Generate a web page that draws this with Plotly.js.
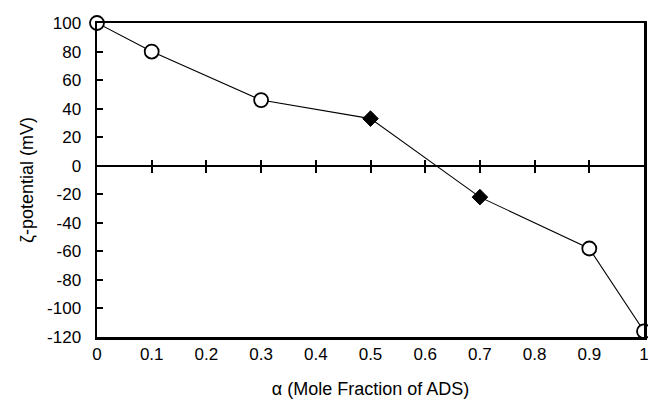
<!DOCTYPE html>
<html>
<head>
<meta charset="utf-8">
<script src="https://cdn.plot.ly/plotly-3.0.1.min.js"></script>
<style>html,body{margin:0;padding:0;background:#fff;}#chart{width:648px;height:403px;}</style>
</head>
<body>
<div id="chart"></div>
<script>
// Data
const alpha = [0, 0.1, 0.3, 0.5, 0.7, 0.9, 1.0];
const zeta = [100, 80, 46, 33, -22, -58, -116];
const symbols = ['circle-open', 'circle-open', 'circle-open', 'diamond', 'diamond', 'circle-open', 'circle-open'];

const xTickVals = [0, 0.1, 0.2, 0.3, 0.4, 0.5, 0.6, 0.7, 0.8, 0.9, 1];
const xTickText = ['0', '0.1', '0.2', '0.3', '0.4', '0.5', '0.6', '0.7', '0.8', '0.9', '1'];
const zeroTickVals = [0.1, 0.2, 0.3, 0.4, 0.5, 0.6, 0.7, 0.8, 0.9];
const yTickVals = [-120, -100, -80, -60, -40, -20, 0, 20, 40, 60, 80, 100];
const yTickText = ['-120', '-100', '-80', '-60', '-40', '-20', '0', '20', '40', '60', '80', '100'];

const xRange = [0, 1];
const yRange = [-120, 100];

const tickFont = {family: 'Liberation Sans, Arial, sans-serif', size: 17, color: '#000000'};
const titleFont = {family: 'Liberation Sans, Arial, sans-serif', size: 18, color: '#000000'};

const isDiamond = symbols.map(s => s === 'diamond');
const circX = alpha.filter((a, i) => !isDiamond[i]);
const circY = zeta.filter((z, i) => !isDiamond[i]);
const diaX = alpha.filter((a, i) => isDiamond[i]);
const diaY = zeta.filter((z, i) => isDiamond[i]);

const traces = [
  {
    x: alpha, y: zeta, type: 'scatter', mode: 'lines',
    line: {color: '#000', width: 1.1},
    cliponaxis: false, hoverinfo: 'skip', showlegend: false
  },
  {
    x: circX, y: circY, type: 'scatter', mode: 'markers',
    marker: {symbol: 'circle', size: 14, color: '#fff', opacity: 1, line: {color: '#000', width: 1.8}},
    cliponaxis: false, hoverinfo: 'skip', showlegend: false
  },
  {
    x: diaX, y: diaY, type: 'scatter', mode: 'markers',
    marker: {symbol: 'diamond', size: 12, color: '#000', opacity: 1, line: {color: '#000', width: 1}},
    cliponaxis: false, hoverinfo: 'skip', showlegend: false
  },
  {x: alpha, y: zeta, xaxis: 'x2', type: 'scatter', mode: 'none', hoverinfo: 'skip', showlegend: false},
  {x: alpha, y: zeta, xaxis: 'x3', type: 'scatter', mode: 'none', hoverinfo: 'skip', showlegend: false}
];

const zeroPos = (0 - yRange[0]) / (yRange[1] - yRange[0]);

const layout = {
  width: 648, height: 403,
  margin: {l: 97, r: 4, t: 23, b: 66},
  paper_bgcolor: '#fff', plot_bgcolor: '#fff',
  font: tickFont,
  showlegend: false,
  xaxis: {
    range: xRange, showline: true, linecolor: '#000', linewidth: 2.5, mirror: true,
    ticks: '', tickvals: xTickVals, ticktext: xTickText, showgrid: false, zeroline: false,
    tickfont: tickFont, ticklabelstandoff: 0, ticklabeloverflow: 'allow',
    title: {text: 'α (Mole Fraction of ADS)', font: titleFont, standoff: 20}
  },
  xaxis2: {
    overlaying: 'x', anchor: 'free', position: zeroPos, range: xRange,
    ticks: 'inside', ticklen: 6, tickwidth: 2, tickcolor: '#000',
    tickvals: zeroTickVals, showticklabels: false, showline: false, showgrid: false, zeroline: false
  },
  xaxis3: {
    overlaying: 'x', anchor: 'free', position: zeroPos, range: xRange,
    ticks: 'outside', ticklen: 6, tickwidth: 2, tickcolor: '#000',
    tickvals: zeroTickVals, showticklabels: false, showline: false, showgrid: false, zeroline: false
  },
  yaxis: {
    range: yRange, showline: true, linecolor: '#000', linewidth: 2.5, mirror: true,
    ticks: 'inside', ticklen: 6, tickwidth: 2, tickcolor: '#000',
    tickvals: yTickVals, ticktext: yTickText, showgrid: false,
    zeroline: true, zerolinecolor: '#000', zerolinewidth: 2,
    tickfont: tickFont, ticklabelstandoff: 10,
    title: {text: 'ζ-potential (mV)', font: titleFont, standoff: 9}
  }
};

Plotly.newPlot('chart', traces, layout, {staticPlot: true, displayModeBar: false});
</script>
</body>
</html>
